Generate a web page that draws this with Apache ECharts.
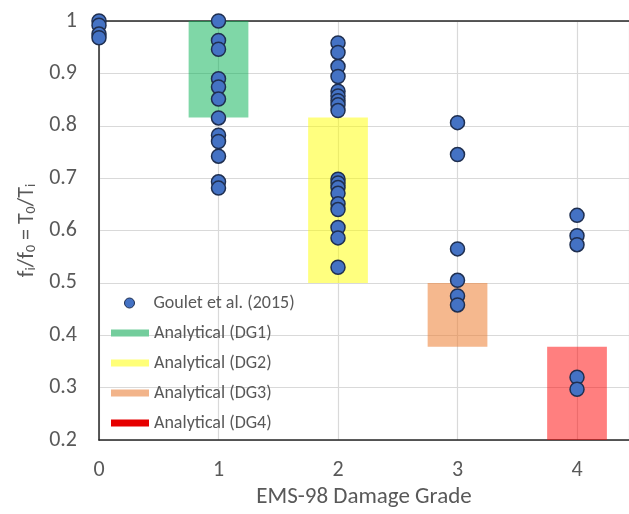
<!DOCTYPE html>
<html>
<head>
<meta charset="utf-8">
<script src="https://cdn.jsdelivr.net/npm/echarts@6/dist/echarts.min.js"></script>
<style>
  html, body { margin: 0; padding: 0; background: #ffffff; }
  #chart { width: 629px; height: 514px; }
</style>
</head>
<body>
<div id="chart"></div>
<script>
// Measured frequency ratios (Goulet et al., 2015), grouped by EMS-98 damage grade
const goulet = [
  [0, 1.000], [0, 0.992], [0, 0.975], [0, 0.968],
  [1, 1.000], [1, 0.963], [1, 0.946], [1, 0.890], [1, 0.874], [1, 0.851],
  [1, 0.815], [1, 0.782], [1, 0.770], [1, 0.742], [1, 0.693], [1, 0.681],
  [2, 0.958], [2, 0.940], [2, 0.913], [2, 0.894], [2, 0.866], [2, 0.857],
  [2, 0.848], [2, 0.840], [2, 0.829], [2, 0.698], [2, 0.691], [2, 0.682],
  [2, 0.671], [2, 0.651], [2, 0.640], [2, 0.606], [2, 0.586], [2, 0.530],
  [3, 0.806], [3, 0.745], [3, 0.565], [3, 0.505], [3, 0.475], [3, 0.458],
  [4, 0.629], [4, 0.590], [4, 0.573], [4, 0.320], [4, 0.297]
];

// Analytical ranges per damage grade: [grade, lower ratio, upper ratio]
const analyticalDG1 = [[1, 0.816, 1.000]];
const analyticalDG2 = [[2, 0.500, 0.816]];
const analyticalDG3 = [[3, 0.378, 0.500]];
const analyticalDG4 = [[4, 0.200, 0.378]];

const gradeTicks = [0, 1, 2, 3, 4];

const FONT = 'Carlito, Lato, sans-serif';
const TEXT_GREY = '#595959';
const BOX_HALF_WIDTH = 0.25;

function rangeBox(name, data, fill) {
  return {
    name: name,
    type: 'custom',
    z: 1,
    data: data,
    encode: { x: 0, y: [1, 2] },
    renderItem: function (params, api) {
      const g = api.value(0);
      const lo = api.value(1);
      const hi = api.value(2);
      const a = api.coord([g - BOX_HALF_WIDTH, hi]);
      const b = api.coord([g + BOX_HALF_WIDTH, lo]);
      return {
        type: 'rect',
        shape: { x: a[0], y: a[1], width: b[0] - a[0], height: b[1] - a[1] },
        style: { fill: fill }
      };
    },
    itemStyle: { color: fill }
  };
}

const chart = echarts.init(document.getElementById('chart'));
chart.setOption({
  animation: false,
  backgroundColor: '#ffffff',
  textStyle: { fontFamily: FONT },
  grid: { left: 99, top: 21, right: 0, bottom: 73 },
  xAxis: [{
    type: 'value',
    min: 0,
    max: 4.435,
    interval: 1,
    axisLine: { show: true, onZero: false, lineStyle: { color: '#262626', width: 1.5 } },
    axisTick: { show: false },
    axisLabel: {
      color: TEXT_GREY, fontSize: 22, fontFamily: FONT, margin: 19,
      showMaxLabel: false,
      formatter: function (v) { return gradeTicks.indexOf(v) >= 0 ? String(v) : ''; }
    },
    splitLine: { show: true, lineStyle: { color: '#d9d9d9', width: 1.2 } },
    name: 'EMS-98 Damage Grade',
    nameLocation: 'middle',
    nameGap: 43,
    nameTextStyle: { color: TEXT_GREY, fontSize: 23, fontFamily: FONT }
  }, {
    type: 'value',
    position: 'top',
    min: 0,
    max: 4.435,
    axisLine: { show: true, onZero: false, lineStyle: { color: '#262626', width: 1.5 } },
    axisTick: { show: false },
    axisLabel: { show: false },
    splitLine: { show: false }
  }],
  yAxis: {
    type: 'value',
    min: 0.2,
    max: 1,
    interval: 0.1,
    axisLine: { show: true, onZero: false, lineStyle: { color: '#262626', width: 1.5 } },
    axisTick: { show: false },
    axisLabel: {
      color: TEXT_GREY, fontSize: 22, fontFamily: FONT, margin: 22,
      formatter: function (v) { return String(Math.round(v * 10) / 10); }
    },
    splitLine: { show: true, lineStyle: { color: '#d9d9d9', width: 1.2 } },
    name: '{m|f}{s|i}{m|/f}{s|0}{m| = T}{s|0}{m|/T}{s|i}',
    nameLocation: 'middle',
    nameRotate: 90,
    nameGap: 60,
    nameTextStyle: {
      color: TEXT_GREY, fontFamily: FONT,
      rich: {
        m: { fontSize: 22, color: TEXT_GREY, fontFamily: FONT, verticalAlign: 'bottom', lineHeight: 25 },
        s: { fontSize: 14, color: TEXT_GREY, fontFamily: FONT, verticalAlign: 'bottom', lineHeight: 20 }
      }
    }
  },
  legend: [{
    orient: 'vertical',
    left: 124,
    top: 294,
    padding: 0,
    itemWidth: 38,
    itemHeight: 10,
    itemGap: 0,
    textStyle: { color: TEXT_GREY, fontSize: 18, fontFamily: FONT },
    data: [{
      name: 'Goulet et al. (2015)',
      icon: 'circle',
      itemStyle: { color: '#4472c4', borderColor: '#1f2f50', borderWidth: 1 }
    }]
  }, {
    orient: 'vertical',
    left: 111,
    top: 324,
    padding: 0,
    itemWidth: 38,
    itemHeight: 7,
    itemGap: 12,
    textStyle: { color: TEXT_GREY, fontSize: 18, fontFamily: FONT },
    data: [
      { name: 'Analytical (DG1)', icon: 'rect', itemStyle: { color: '#73cd9c' } },
      { name: 'Analytical (DG2)', icon: 'rect', itemStyle: { color: '#ffff78' } },
      { name: 'Analytical (DG3)', icon: 'rect', itemStyle: { color: '#f2b48a' } },
      { name: 'Analytical (DG4)', icon: 'rect', itemStyle: { color: '#e60000' } }
    ]
  }],
  series: [
    rangeBox('Analytical (DG1)', analyticalDG1, 'rgba(0,176,80,0.5)'),
    rangeBox('Analytical (DG2)', analyticalDG2, 'rgba(255,255,0,0.5)'),
    rangeBox('Analytical (DG3)', analyticalDG3, 'rgba(237,125,49,0.55)'),
    rangeBox('Analytical (DG4)', analyticalDG4, 'rgba(255,0,0,0.5)'),
    {
      name: 'Goulet et al. (2015)',
      type: 'scatter',
      z: 5,
      clip: false,
      data: goulet,
      symbol: 'circle',
      symbolSize: 14,
      itemStyle: { color: '#4472c4', borderColor: '#1f2f50', borderWidth: 1.5, opacity: 1 }
    }
  ]
});
</script>
</body>
</html>
